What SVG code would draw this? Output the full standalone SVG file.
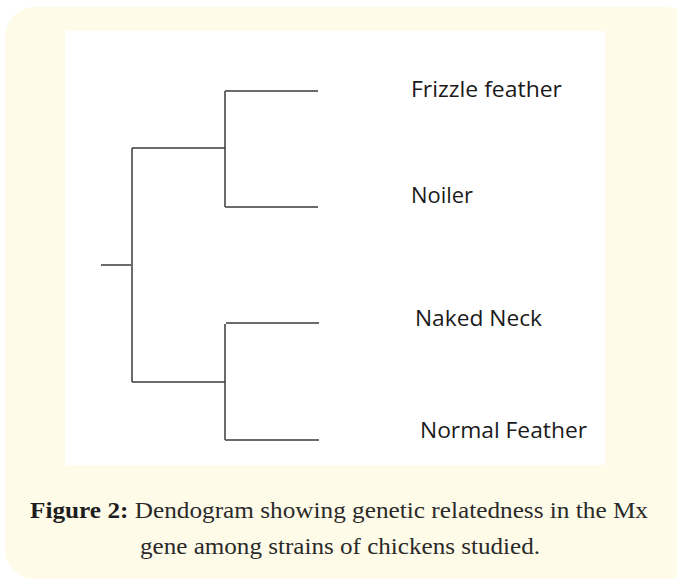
<svg xmlns="http://www.w3.org/2000/svg" width="677" height="581" viewBox="0 0 677 581">
  <style>
    .card { fill: #fefbe8; }
    .panel { fill: #ffffff; }
    .branch { stroke: #3a3a3a; stroke-width: 1.5; fill: none; }
    .leaf { stroke: #6b6b6b; stroke-width: 2; fill: none; }
    .label { font-family: "Open Sans", "Liberation Sans", sans-serif; font-size: 21px; fill: #1a1a1a; }
    .caption { font-family: "Liberation Serif", "DejaVu Serif", serif; font-size: 24px; fill: #2a2a2a; }
    .caption .bold { font-weight: bold; fill: #1e1e1e; }
  </style>

  <!-- card background and figure panel -->
  <rect class="card" x="5" y="7" width="690" height="572" rx="30" ry="30"/>
  <rect class="panel" x="65" y="31" width="540" height="434"/>

  <!-- tree branches -->
  <g id="connectors">
    <line class="leaf" x1="101" y1="265" x2="132" y2="265"/>
    <line class="leaf" x1="132" y1="148" x2="132" y2="382"/>
    <line class="branch" x1="132" y1="148" x2="225" y2="148"/>
    <line class="branch" x1="132" y1="382" x2="225" y2="382"/>
    <line class="branch" x1="225" y1="91" x2="225" y2="207"/>
    <line class="branch" x1="225" y1="324" x2="225" y2="440"/>
    <line class="leaf" x1="225" y1="91" x2="318" y2="91"/>
    <line class="leaf" x1="225" y1="207" x2="318" y2="207"/>
    <line class="leaf" x1="226" y1="323" x2="319" y2="323"/>
    <line class="leaf" x1="225" y1="440" x2="319" y2="440"/>
  </g>

  <!-- leaf labels -->
  <g id="frizzle-feather"><text class="label" x="411" y="97" textLength="151" lengthAdjust="spacingAndGlyphs">Frizzle feather</text></g>
  <g id="noiler"><text class="label" x="411" y="203" textLength="62" lengthAdjust="spacingAndGlyphs">Noiler</text></g>
  <g id="naked-neck"><text class="label" x="415" y="326" textLength="127" lengthAdjust="spacingAndGlyphs">Naked Neck</text></g>
  <g id="normal-feather"><text class="label" x="420" y="438" textLength="167" lengthAdjust="spacingAndGlyphs">Normal Feather</text></g>

  <!-- caption -->
  <g id="caption">
    <text class="caption" x="30" y="518" textLength="618" lengthAdjust="spacingAndGlyphs"><tspan class="bold">Figure 2:</tspan> Dendogram showing genetic relatedness in the Mx</text>
    <text class="caption" x="140" y="554" textLength="400" lengthAdjust="spacingAndGlyphs">gene among strains of chickens studied.</text>
  </g>
</svg>
